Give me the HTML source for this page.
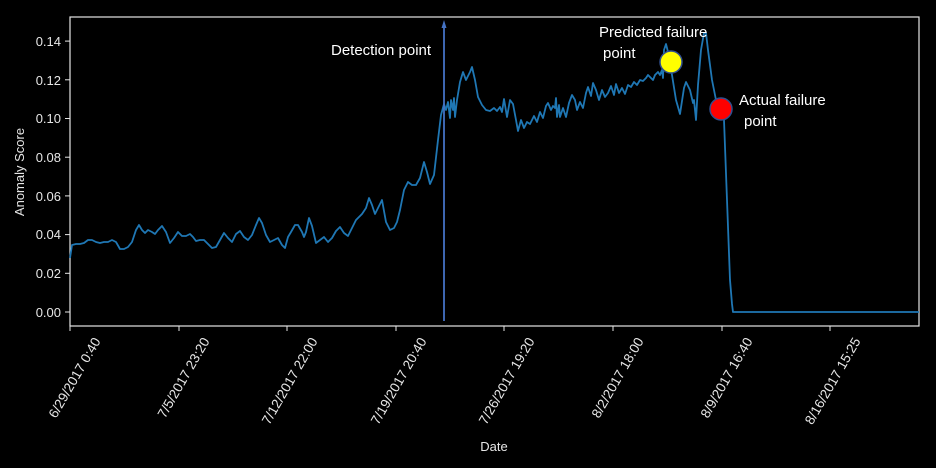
<!DOCTYPE html>
<html><head><style>html,body{margin:0;padding:0;background:#000;}svg{display:block}</style></head>
<body>
<svg width="936" height="468" xmlns="http://www.w3.org/2000/svg" font-family="'Liberation Sans', 'DejaVu Sans', sans-serif">
<rect width="936" height="468" fill="#000"/>
<rect x="70" y="17" width="849" height="309" fill="none" stroke="#e6e6e6" stroke-width="1.2"/>
<g stroke="#e6e6e6" stroke-width="1">
<line x1="65" y1="312" x2="70" y2="312"/><line x1="65" y1="273.3" x2="70" y2="273.3"/><line x1="65" y1="234.6" x2="70" y2="234.6"/><line x1="65" y1="195.9" x2="70" y2="195.9"/><line x1="65" y1="157.2" x2="70" y2="157.2"/><line x1="65" y1="118.5" x2="70" y2="118.5"/><line x1="65" y1="79.8" x2="70" y2="79.8"/><line x1="65" y1="41.1" x2="70" y2="41.1"/>
<line x1="70" y1="326" x2="70" y2="331"/><line x1="179" y1="326" x2="179" y2="331"/><line x1="287" y1="326" x2="287" y2="331"/><line x1="396" y1="326" x2="396" y2="331"/><line x1="504" y1="326" x2="504" y2="331"/><line x1="613" y1="326" x2="613" y2="331"/><line x1="722" y1="326" x2="722" y2="331"/><line x1="830" y1="326" x2="830" y2="331"/>
</g>
<g fill="#e6e6e6" font-size="13" text-anchor="end">
<text x="61" y="317">0.00</text><text x="61" y="278">0.02</text><text x="61" y="239">0.04</text><text x="61" y="201">0.06</text><text x="61" y="162">0.08</text><text x="61" y="123">0.10</text><text x="61" y="85">0.12</text><text x="61" y="46">0.14</text>
</g>
<g fill="#e6e6e6" font-size="13.5" text-anchor="end">
<text transform="translate(101,341) rotate(-60)">6/29/2017 0:40</text>
<text transform="translate(210,341) rotate(-60)">7/5/2017 23:20</text>
<text transform="translate(318,341) rotate(-60)">7/12/2017 22:00</text>
<text transform="translate(427,341) rotate(-60)">7/19/2017 20:40</text>
<text transform="translate(535,341) rotate(-60)">7/26/2017 19:20</text>
<text transform="translate(644,341) rotate(-60)">8/2/2017 18:00</text>
<text transform="translate(753,341) rotate(-60)">8/9/2017 16:40</text>
<text transform="translate(861,341) rotate(-60)">8/16/2017 15:25</text>
</g>
<text x="494" y="451" fill="#e6e6e6" font-size="13" text-anchor="middle">Date</text>
<text transform="translate(24,172) rotate(-90)" fill="#e6e6e6" font-size="13" text-anchor="middle">Anomaly Score</text>
<polyline fill="none" stroke="#1f77b4" stroke-width="1.8" stroke-linejoin="round" points="70,258 72,245 76,244 80,244 84,243 88,240 92,240 96,242 100,243 104,242 108,242 112,240 116,242 120,249 124,249 128,247 132,242 136,230 139,225 142,230 145,233 148,230 152,232 155,234 158,230 162,226 166,232 170,243 174,238 178,232 182,236 186,236 190,234 193,237 196,241 200,240 204,240 208,244 212,248 216,247 220,240 224,233 228,238 232,242 236,234 240,231 244,237 248,240 252,235 256,225 259,218 262,223 266,235 270,242 274,240 278,238 282,245 285,248 288,237 291,232 295,225 298,225 302,232 304,237 306,232 309,218 312,226 316,243 320,240 324,237 328,242 332,238 336,231 340,227 344,233 348,236 352,228 356,220 362,214 366,208 369,198 372,205 375,214 378,208 382,200 386,222 390,230 394,228 397,222 400,210 404,190 408,182 412,185 416,185 420,178 424,162 427,172 430,184 434,175 438,140 441,115 444,104 446,110 448,102 450,118 451,100 453,110 454,98 455,117 457,100 460,82 463,72 466,80 470,72 472,67 475,80 478,97 482,105 486,110 490,111 494,108 497,111 500,107 502,112 504,99 507,117 510,100 513,104 516,120 518,131 521,120 524,128 527,122 530,124 534,116 537,122 540,112 543,118 546,106 548,103 551,110 553,106 555,108 556,98 557,117 559,105 560,117 563,108 566,117 569,103 572,95 575,100 577,110 580,102 583,108 586,93 588,87 591,96 593,83 596,90 599,100 602,90 605,97 608,93 611,86 614,95 616,84 619,93 622,88 625,94 628,85 631,87 634,82 637,85 640,80 643,81 646,78 648,75 650,77 653,80 655,75 658,72 660,75 662,70 663,78 664,50 666,44 668,52 672,75 676,100 680,114 684,88 686,82 690,90 693,103 694,100 696,120 698,85 701,50 704,33 706,33 708,50 712,80 716,100 720,112 724,120 727,200 730,280 732,304 733,312 919,312"/>
<line x1="444" y1="321" x2="444" y2="26" stroke="#4472c4" stroke-width="1.8"/>
<polygon points="444,20 441.5,28 446.5,28" fill="#4472c4"/>
<circle cx="671" cy="62" r="11" fill="#ffff00" stroke="#2f4f8f" stroke-width="1.5"/>
<circle cx="721" cy="109" r="11" fill="#ff0000" stroke="#2f4f8f" stroke-width="1.5"/>
<g fill="#ffffff" font-size="15">
<text x="331" y="55">Detection point</text>
<text x="599" y="37">Predicted failure</text>
<text x="603" y="58">point</text>
<text x="739" y="105">Actual failure</text>
<text x="744" y="126">point</text>
</g>
</svg>
</body></html>
